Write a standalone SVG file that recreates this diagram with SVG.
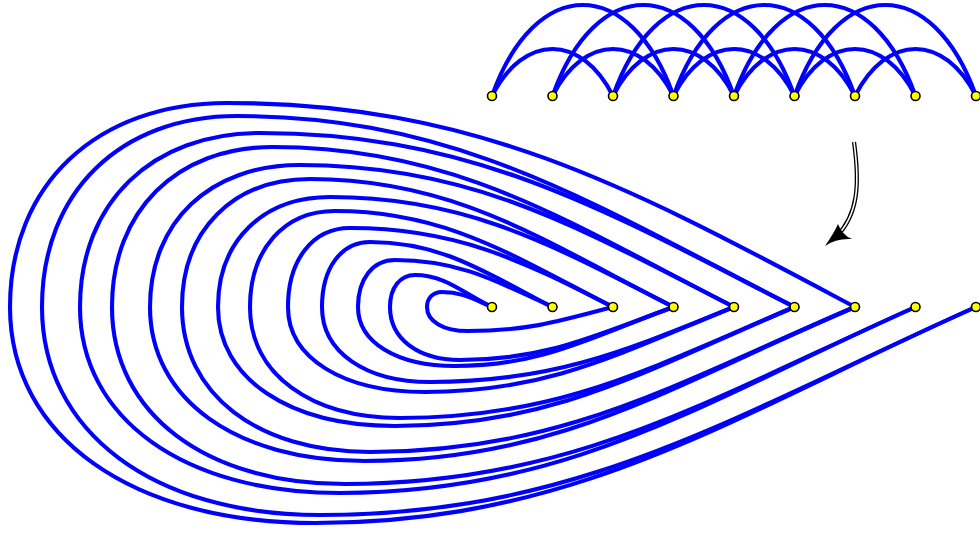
<svg xmlns="http://www.w3.org/2000/svg" width="980" height="533" viewBox="0 0 980 533">
<style>
.e{fill:none;stroke:#0000ff;stroke-width:4.1;stroke-linecap:round}
.n{fill:#ffff00;stroke:#000;stroke-width:1.6}
</style>
<rect width="980" height="533" fill="#fff"/>
<g id="connectors">
<g id="top-edges">
<path class="e" d="M492,96 C524,33.3 581,33.3 613,96"/>
<path class="e" d="M552.5,96 C584.5,33.3 641.5,33.3 673.5,96"/>
<path class="e" d="M613,96 C645,33.3 702,33.3 734,96"/>
<path class="e" d="M673.5,96 C705.5,33.3 762.5,33.3 794.5,96"/>
<path class="e" d="M734,96 C766,33.3 823,33.3 855,96"/>
<path class="e" d="M794.5,96 C826.5,33.3 883.5,33.3 915.5,96"/>
<path class="e" d="M855,96 C887,33.3 944,33.3 976,96"/>
<path class="e" d="M492,96 C535,-25.3 630.5,-25.3 673.5,96"/>
<path class="e" d="M552.5,96 C595.5,-25.3 691,-25.3 734,96"/>
<path class="e" d="M613,96 C656,-25.3 751.5,-25.3 794.5,96"/>
<path class="e" d="M673.5,96 C716.5,-25.3 812,-25.3 855,96"/>
<path class="e" d="M734,96 C777,-25.3 872.5,-25.3 915.5,96"/>
<path class="e" d="M794.5,96 C837.5,-25.3 933,-25.3 976,96"/>
</g>
<g id="bottom-edges">
<path class="e" d="M492,307 C473.6,299.2 462,292 442,292 C433,292 427,298 427,307 C427,321.4 443.4,331 468,331 C526,331 557,322 613,307"/>
<path class="e" d="M492,307 C464.1,294 445.8,275 415,275 C400,275 390,287.8 390,307 C390,338.8 418,360 460,360 C545.4,360 593.2,336.2 673.5,307"/>
<path class="e" d="M552.5,307 C495.4,280.4 458,260 395,260 C372.8,260 358,278.8 358,307 C358,342.4 396.8,366 455,366 C542.4,366 591.4,336.9 673.5,307"/>
<path class="e" d="M552.5,307 C487.5,273.9 443,242 370,242 C341.2,242 322,268 322,307 C322,352 365.2,382 430,382 C551.6,382 621.3,352.6 734,307"/>
<path class="e" d="M613,307 C519.3,259.2 455.2,228 350,228 C312.8,228 288,259.6 288,307 C288,358 342.8,392 425,392 C548.6,392 619.4,353.3 734,307"/>
<path class="e" d="M613,307 C513.9,256.5 446.2,211 335,211 C284,211 250,249.4 250,307 C250,373.6 310,418 400,418 C557.8,418 649.2,368.7 794.5,307"/>
<path class="e" d="M673.5,307 C551.1,244.6 467.4,197 330,197 C262.8,197 218,241 218,307 C218,378.4 288.8,426 395,426 C554.8,426 647.4,369.4 794.5,307"/>
<path class="e" d="M673.5,307 C543.9,241 455.4,179 310,179 C233.2,179 182,230.2 182,307 C182,394 257.2,452 370,452 C564,452 676.4,382.8 855,307"/>
<path class="e" d="M734,307 C579.3,228.2 473.6,165 300,165 C210,165 150,221.8 150,307 C150,399.4 236,461 365,461 C561,461 674.6,383.6 855,307"/>
<path class="e" d="M734,307 C569.7,223.3 457.4,147 273,147 C176.4,147 112,211 112,307 C112,413.2 205.2,484 345,484 C573.2,484 707,399.8 915.5,307"/>
<path class="e" d="M794.5,307 C604,209.9 473.8,133 260,133 C152,133 80,202.6 80,307 C80,418.6 184,493 340,493 C570.2,493 705.2,400.6 915.5,307"/>
<path class="e" d="M794.5,307 C595.8,205.8 460,116 237,116 C120,116 42,192.4 42,307 C42,431.8 153.2,515 320,515 C582.4,515 736.3,413.7 976,307"/>
<path class="e" d="M855,307 C633.2,189.1 478.2,103 227,103 C96.8,103 10,184.6 10,307 C10,436.6 132,523 315,523 C579.4,523 734.5,414.5 976,307"/>
</g>
<g id="transform-arrow">
<path d="M854,142 C860,185 858,215 836,237" fill="none" stroke="#000" stroke-width="4.2"/>
<path d="M854,142 C860,185 858,215 836,237" fill="none" stroke="#fff" stroke-width="1.6"/>
<path d="M825,246 Q834,233 838,224 Q842,235 852,239 Q836,238 825,246 Z" fill="#000"/>
</g>
</g>
<g id="top-nodes">
<circle id="t0" class="n" cx="492" cy="96" r="4.5"/>
<circle id="t1" class="n" cx="552.5" cy="96" r="4.5"/>
<circle id="t2" class="n" cx="613" cy="96" r="4.5"/>
<circle id="t3" class="n" cx="673.5" cy="96" r="4.5"/>
<circle id="t4" class="n" cx="734" cy="96" r="4.5"/>
<circle id="t5" class="n" cx="794.5" cy="96" r="4.5"/>
<circle id="t6" class="n" cx="855" cy="96" r="4.5"/>
<circle id="t7" class="n" cx="915.5" cy="96" r="4.5"/>
<circle id="t8" class="n" cx="976" cy="96" r="4.5"/>
</g>
<g id="bottom-nodes">
<circle id="b0" class="n" cx="492" cy="307" r="4.5"/>
<circle id="b1" class="n" cx="552.5" cy="307" r="4.5"/>
<circle id="b2" class="n" cx="613" cy="307" r="4.5"/>
<circle id="b3" class="n" cx="673.5" cy="307" r="4.5"/>
<circle id="b4" class="n" cx="734" cy="307" r="4.5"/>
<circle id="b5" class="n" cx="794.5" cy="307" r="4.5"/>
<circle id="b6" class="n" cx="855" cy="307" r="4.5"/>
<circle id="b7" class="n" cx="915.5" cy="307" r="4.5"/>
<circle id="b8" class="n" cx="976" cy="307" r="4.5"/>
</g>
</svg>
